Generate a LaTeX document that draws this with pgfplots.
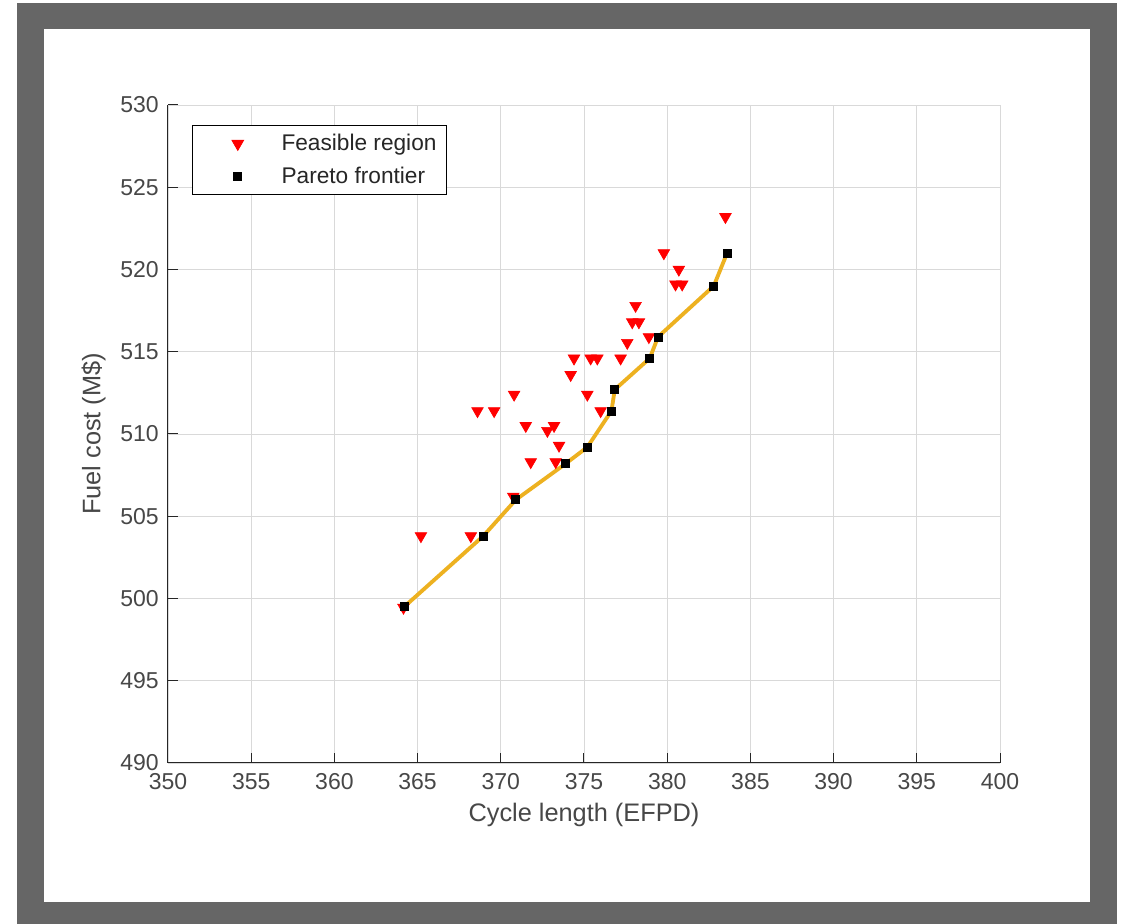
\documentclass[border=0pt]{standalone}
\usepackage{fontspec}
\setmainfont{Liberation Sans}
\usepackage{pgfplots}
\pgfplotsset{compat=1.18}

\definecolor{frame}{HTML}{666666}
\definecolor{axtext}{HTML}{262626}
\definecolor{pareto}{RGB}{237,177,32}

\pgfplotsset{mylegend/.style={legend image code/.code={%
    \draw[##1] plot coordinates {(23pt,0pt)}; \path (0pt,0pt) (47pt,0pt);}}}

\pgfplotstableread{
x y
365.2 503.8
368.2 503.8
368.6 511.4
369.6 511.4
370.8 512.4
371.5 510.5
372.8 510.2
373.2 510.5
373.5 509.3
371.8 508.3
373.3 508.3
370.75 506.2
374.2 513.6
374.4 514.6
375.4 514.6
375.8 514.6
375.2 512.4
376.0 511.4
377.2 514.6
377.6 515.55
378.9 515.9
383.5 523.2
379.8 521.0
380.7 520.0
380.5 519.1
380.9 519.1
378.1 517.8
377.9 516.8
378.3 516.8
364.15 499.45
}\feasible

\pgfplotstableread{
x y
364.2 499.5
368.95 503.8
370.9 506.0
373.9 508.2
375.2 509.2
376.65 511.4
376.85 512.7
378.95 514.6
379.45 515.9
382.8 519.0
383.6 521.0
}\front

\begin{document}
\begin{tikzpicture}
\begin{scope}[x=0.6pt,y=-0.6pt]
\fill[white] (0,0) rectangle (1127,924);
\fill[frame] (17,3) rectangle (1117,924);
\fill[white] (44,29) rectangle (1090,902);
\end{scope}
\begin{axis}[
    at={(100.8pt,-63pt)}, anchor=north west,
    scale only axis,
    width=499.2pt, height=394.8pt,
    xmin=350, xmax=400, ymin=490, ymax=530,
    xtick={350,355,...,400},
    ytick={490,495,...,530},
    axis x line*=bottom, axis y line*=left,
    axis line style={axtext, line width=0.6pt},
    tick align=inside,
    major tick length=6pt,
    tick style={axtext, line width=0.6pt},
    grid=major,
    major grid style={black!15, line width=0.5pt},
    /pgf/number format/assume math mode=true,
    /pgf/number format/1000 sep={},
    ticklabel style={font=\fontsize{13.8}{15}\selectfont, text=axtext!85},
    xticklabel style={yshift=-3pt},
    yticklabel style={xshift=-2pt},
    label style={font=\fontsize{15.2}{17}\selectfont, text=axtext!85},
    xlabel={Cycle length (EFPD)},
    ylabel={Fuel cost (M\$)},
    xlabel style={yshift=-1pt},
    ylabel style={yshift=2pt},
    legend style={at={(0.0288,0.9696)}, anchor=north west,
        draw=black, line width=0.5pt, fill=white,
        font=\fontsize{13.6}{16}\selectfont, text=axtext,
        row sep=4.2pt, inner xsep=4pt, inner ysep=3.3pt},
    legend cell align=left,
]
\addplot[only marks, mark=triangle*, mark size=4pt,
    mark options={rotate=180, fill=red, draw=red}, mylegend]
    table {\feasible};
\addlegendentry{Feasible region}
\addplot[only marks, mark=square*, mark size=2.4pt,
    mark options={fill=black, draw=black}, mylegend]
    table {\front};
\addlegendentry{Pareto frontier}
\addplot[pareto, line width=2.3pt, forget plot] table {\front};
\end{axis}
\end{tikzpicture}
\end{document}
